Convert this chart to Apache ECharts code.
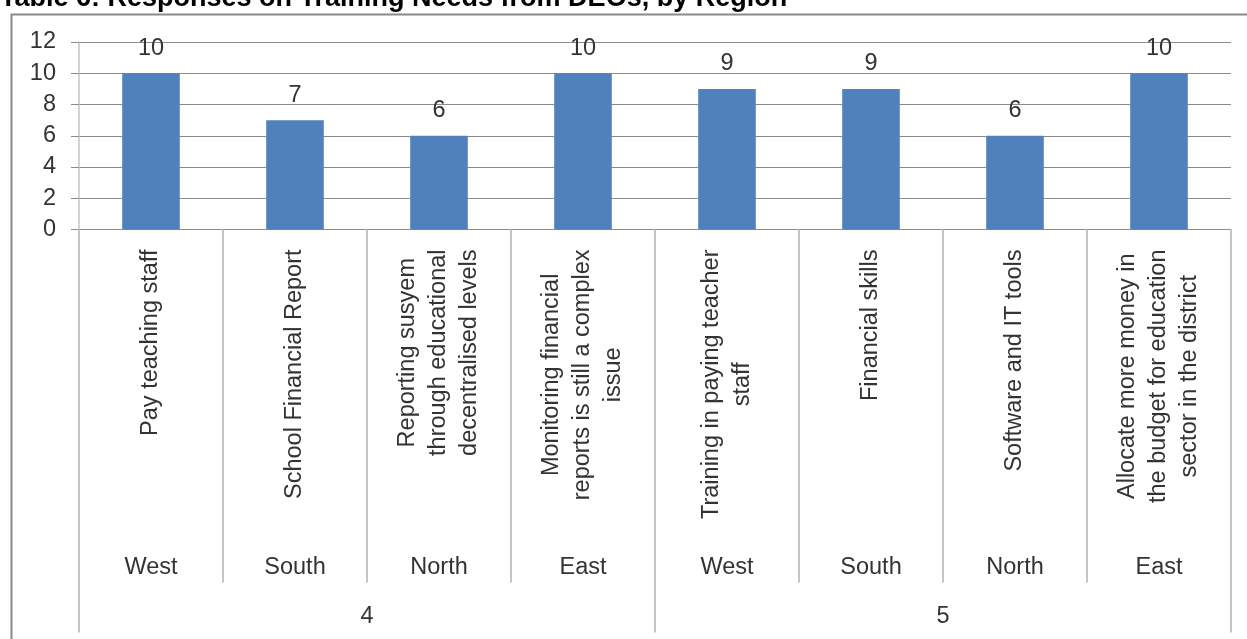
<!DOCTYPE html>
<html>
<head>
<meta charset="utf-8">
<script src="https://cdn.jsdelivr.net/npm/echarts@6/dist/echarts.min.js"></script>
<style>
html,body{margin:0;padding:0;background:#ffffff;}
#chart{width:1247px;height:639px;}
</style>
</head>
<body>
<div id="chart"></div>
<script>
// ---------- data ----------
const titleText = 'Table 6: Responses on Training Needs from DEOs, by Region';
const needs = [
  'Pay teaching staff',
  'School Financial Report',
  'Reporting susyem\nthrough educational\ndecentralised levels',
  'Monitoring financial\nreports is still a complex\nissue',
  'Training in paying teacher\nstaff',
  'Financial skills',
  'Software and IT tools',
  'Allocate more money in\nthe budget for education\nsector in the district'
];
const regions = ['West', 'South', 'North', 'East', 'West', 'South', 'North', 'East'];
const groups = ['4', '5'];
const responses = [10, 7, 6, 10, 9, 9, 6, 10];
const yMin = 0, yMax = 12, yStep = 2;

// ---------- style ----------
const FONT = '"Liberation Sans", Arial, sans-serif';
const FS = 23.5;
const TXT = '#333333';
const GRID_C = '#8c8c8c';
const SEP_C = '#c4c4c4';
const AXIS_Y = 229.5;
const H = 639;

const chart = echarts.init(document.getElementById('chart'), null, {renderer: 'canvas'});

const option = {
  animation: false,
  backgroundColor: '#ffffff',
  graphic: [
    {
      type: 'rect', left: 9, top: 12, z: -10, silent: true,
      shape: {width: 1300, height: 700},
      style: {fill: 'none', stroke: '#8a8a8a', lineWidth: 2}
    },
    {
      type: 'text', x: 0, y: 12, z: 10, silent: true,
      style: {
        text: titleText,
        font: 'bold 27px "Liberation Sans", Arial, sans-serif',
        fill: '#000000',
        verticalAlign: 'bottom',
        align: 'left'
      }
    }
  ],
  grid: {
    left: 79, right: 16, top: 42, bottom: H - AXIS_Y,
    containLabel: false,
    outerBoundsMode: 'none'
  },
  yAxis: {
    type: 'value',
    min: yMin, max: yMax, interval: yStep,
    axisLine: {show: true, lineStyle: {color: SEP_C, width: 1.5}},
    axisTick: {show: true, length: 8, lineStyle: {color: GRID_C, width: 1}},
    axisLabel: {fontFamily: FONT, fontSize: FS, color: TXT, margin: 23},
    splitLine: {show: true, lineStyle: {color: GRID_C, width: 1}}
  },
  xAxis: [
    {
      type: 'category',
      data: needs,
      position: 'bottom',
      boundaryGap: true,
      axisLine: {show: true, lineStyle: {color: GRID_C, width: 1}},
      axisTick: {show: true, interval: 0, length: 353, lineStyle: {color: SEP_C, width: 2}},
      axisLabel: {
        interval: 0, rotate: 90, margin: 20, hideOverlap: false,
        fontFamily: FONT, fontSize: FS, color: TXT,
        formatter: function (v) {
          return v.split('\n').map(function (l) { return '{c|' + l + '}'; }).join('\n');
        },
        rich: {
          c: {align: 'center', fontFamily: FONT, fontSize: FS, color: TXT, lineHeight: 31}
        }
      },
      splitLine: {show: false}
    },
    {
      type: 'category',
      data: regions,
      position: 'bottom',
      boundaryGap: true,
      axisLine: {show: false},
      axisTick: {show: false},
      axisLabel: {interval: 0, margin: 326, fontFamily: FONT, fontSize: FS, color: TXT, hideOverlap: false},
      splitLine: {show: false}
    },
    {
      type: 'category',
      data: groups,
      position: 'bottom',
      boundaryGap: true,
      axisLine: {show: false},
      axisTick: {show: true, interval: 0, length: 403, lineStyle: {color: SEP_C, width: 2}},
      axisLabel: {interval: 0, margin: 375, fontFamily: FONT, fontSize: FS, color: TXT, hideOverlap: false},
      splitLine: {show: false}
    }
  ],
  series: [
    {
      type: 'bar',
      xAxisIndex: 0,
      yAxisIndex: 0,
      data: responses,
      barWidth: '40%',
      itemStyle: {color: '#4f81bd'},
      label: {
        show: true, position: 'top', distance: 13,
        fontFamily: FONT, fontSize: FS, color: TXT
      }
    }
  ]
};

chart.setOption(option);
</script>
</body>
</html>
